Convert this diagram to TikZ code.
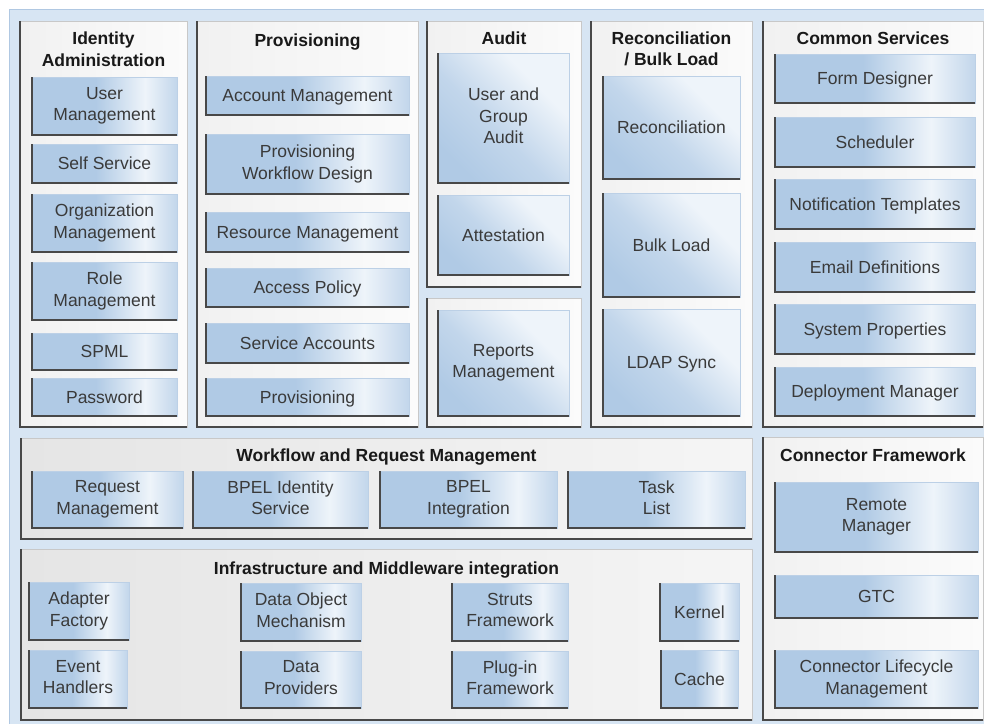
\documentclass[tikz,border=0pt]{standalone}
\usepackage{fontspec}
\setmainfont{Liberation Sans}
\definecolor{bgblue}{RGB}{215,229,243}
\definecolor{bgline}{RGB}{176,200,226}
\definecolor{bblue}{RGB}{176,202,229}
\definecolor{blight}{RGB}{238,244,250}
\definecolor{bmid}{RGB}{194,214,235}
\definecolor{bedge}{RGB}{188,208,230}
\definecolor{dedge}{RGB}{72,72,72}
\definecolor{pedge}{RGB}{200,200,200}
\definecolor{ptxt}{RGB}{25,25,25}
\definecolor{btxt}{RGB}{58,58,58}
\definecolor{pupL}{RGB}{241,241,241}
\definecolor{pupR}{RGB}{251,251,251}
\definecolor{pgrL}{RGB}{229,229,229}
\definecolor{pgrR}{RGB}{245,245,245}
\pgfdeclarehorizontalshading{boxshade}{100bp}{color(0bp)=(bblue); color(25bp)=(bblue); color(47bp)=(bblue); color(64bp)=(blight); color(75bp)=(bmid); color(100bp)=(bmid)}
\pgfdeclarehorizontalshading{tallshade}{100bp}{color(0bp)=(bblue); color(25bp)=(bblue); color(45bp)=(bmid); color(68bp)=(blight); color(75bp)=(blight); color(100bp)=(blight)}
\newcommand\mkstrut{\rule[-4pt]{0pt}{20.6pt}}
\newcommand\mkbox[7]{%
  \pgfmathsetmacro\mkW{#5-#3}\pgfmathsetmacro\mkH{#6-#4}%
  \pgfmathsetmacro\mkX{(#3+#5)/2}\pgfmathsetmacro\mkY{(#4+#6)/2}%
  \node[#1, minimum width=\mkW pt, minimum height=\mkH pt] (#2) at (\mkX,\mkY) {#7};
  \draw[darkedge] (#2.north west) |- (#2.south east);}
\begin{document}
\begin{tikzpicture}[x=1pt,y=-1pt,
  panel/.style={draw=pedge, line width=0.8pt, left color=pupL, right color=pupR, inner sep=0pt, outer sep=0pt},
  gpanel/.style={panel, left color=pgrL, right color=pgrR},
  blbox/.style={draw=bedge, line width=0.8pt, shading=boxshade, inner sep=0pt, outer sep=0pt, align=center, text=btxt, font=\fontsize{17.5}{21.5}\selectfont, execute at begin node=\mkstrut, execute at end node=\mkstrut},
  tallbox/.style={blbox, shading=tallshade, shading angle=45},
  darkedge/.style={draw=dedge, line width=1.5pt},
  ptitle/.style={text=ptxt, font=\bfseries\fontsize{17.5}{21.5}\selectfont, align=center, inner sep=0pt}]
\useasboundingbox (0,0) rectangle (984,724);
\fill[white] (0,0) rectangle (984,724);
\fill[bgblue] (9,9) rectangle (984,724);
\draw[bgline, line width=1pt] (9,724) -- (9,9) -- (984,9);
% panels
\mkbox{panel}{pIdent}{20}{21}{187}{427}{}
\mkbox{panel}{pProv}{197}{21}{418}{427}{}
\mkbox{panel}{pAudit}{427}{21}{581}{287}{}
\mkbox{panel}{pRep}{427}{298}{581}{427}{}
\mkbox{panel}{pRecon}{591}{21}{752}{427}{}
\mkbox{panel}{pCommon}{763}{21}{983}{427}{}
\mkbox{gpanel}{pWork}{21}{438}{752}{539}{}
\mkbox{gpanel}{pInfra}{21}{549}{752}{720}{}
\mkbox{panel}{pConn}{763}{437}{983}{720}{}
% titles
\node[ptitle] (tIdent) at (103.5,49) {Identity\\Administration};
\node[ptitle, anchor=base] (tProv) at (307.5,46.5) {Provisioning};
\node[ptitle, anchor=base] (tAudit) at (504,44.5) {Audit};
\node[ptitle] (tRecon) at (671.5,49) {Reconciliation\\/ Bulk Load};
\node[ptitle, anchor=base] (tCommon) at (873,44.5) {Common Services};
\node[ptitle, anchor=base] (tWork) at (386.5,461.5) {Workflow and Request Management};
\node[ptitle, anchor=base] (tInfra) at (386.5,574.5) {Infrastructure and Middleware integration};
\node[ptitle, anchor=base] (tConn) at (873,461.5) {Connector Framework};
% identity administration
\mkbox{blbox}{bUser}{32}{77}{177}{135}{User\\Management}
\mkbox{blbox}{bSelf}{32}{144}{177}{183}{Self Service}
\mkbox{blbox}{bOrg}{32}{194}{177}{252}{Organization\\Management}
\mkbox{blbox}{bRole}{32}{262}{177}{320}{Role\\Management}
\mkbox{blbox}{bSPML}{32}{333}{177}{370}{SPML}
\mkbox{blbox}{bPwd}{32}{378}{177}{416}{Password}
% provisioning
\mkbox{blbox}{bAcc}{206}{76}{409}{115}{Account Management}
\mkbox{blbox}{bPWD}{206}{134}{409}{194}{Provisioning\\Workflow Design}
\mkbox{blbox}{bRes}{206}{212}{409}{252}{Resource Management}
\mkbox{blbox}{bAP}{206}{268}{409}{307}{Access Policy}
\mkbox{blbox}{bSA}{206}{323}{409}{363}{Service Accounts}
\mkbox{blbox}{bProv}{206}{378}{409}{416}{Provisioning}
% audit
\mkbox{tallbox}{bUGA}{438}{53}{569}{183}{User and\\Group\\Audit}
\mkbox{tallbox}{bAtt}{438}{195}{569}{275}{Attestation}
\mkbox{tallbox}{bRep}{438}{310}{569}{416}{Reports\\Management}
% reconciliation
\mkbox{tallbox}{bRec}{603}{76}{740}{179}{Reconciliation}
\mkbox{tallbox}{bBulk}{603}{193}{740}{297}{Bulk Load}
\mkbox{tallbox}{bLDAP}{603}{309}{740}{416}{LDAP Sync}
% common services
\mkbox{blbox}{bForm}{775}{54}{975}{103}{Form Designer}
\mkbox{blbox}{bSched}{775}{117}{975}{167}{Scheduler}
\mkbox{blbox}{bNotif}{775}{179}{975}{229}{Notification Templates}
\mkbox{blbox}{bEmail}{775}{242}{975}{292}{Email Definitions}
\mkbox{blbox}{bSys}{775}{304}{975}{354}{System Properties}
\mkbox{blbox}{bDep}{775}{367}{975}{416}{Deployment Manager}
% workflow
\mkbox{blbox}{bReq}{32}{471}{183}{528}{Request\\Management}
\mkbox{blbox}{bBIS}{193}{471}{368}{528}{BPEL Identity\\Service}
\mkbox{blbox}{bBI}{380}{471}{557}{528}{BPEL\\Integration}
\mkbox{blbox}{bTask}{568}{471}{745}{528}{Task\\List}
% infrastructure
\mkbox{blbox}{bAdapt}{29}{582}{129}{640}{Adapter\\Factory}
\mkbox{blbox}{bEvent}{29}{650}{127}{708}{Event\\Handlers}
\mkbox{blbox}{bDOM}{241}{583}{361}{641}{Data Object\\Mechanism}
\mkbox{blbox}{bDP}{241}{651}{361}{708}{Data\\Providers}
\mkbox{blbox}{bStruts}{452}{583}{568}{641}{Struts\\Framework}
\mkbox{blbox}{bPlug}{452}{651}{568}{708}{Plug-in\\Framework}
\mkbox{blbox}{bKernel}{660}{583}{739}{641}{Kernel}
\mkbox{blbox}{bCache}{661}{650}{738}{708}{Cache}
% connector framework
\mkbox{blbox}{bRemote}{775}{482}{978}{552}{Remote\\Manager}
\mkbox{blbox}{bGTC}{775}{575}{978}{618}{GTC}
\mkbox{blbox}{bCLM}{775}{650}{978}{708}{Connector Lifecycle\\Management}
\end{tikzpicture}
\end{document}
